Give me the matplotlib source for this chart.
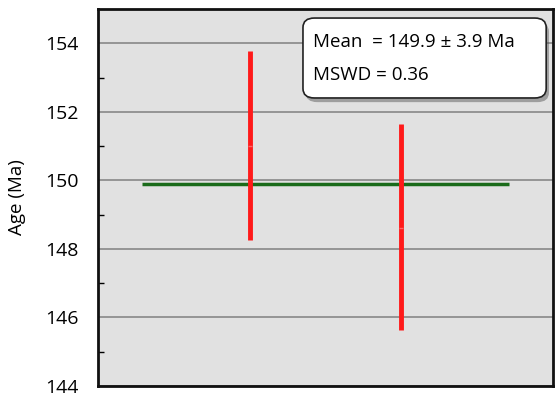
import matplotlib.pyplot as plt
from matplotlib.patches import FancyBboxPatch
import matplotlib.patheffects as pe

plt.rcParams["font.family"] = ["Open Sans", "DejaVu Sans"]

# analysis positions and age intervals (Ma)
positions = [1, 2]
ages = [151.0, 148.62]
age_low = [148.27, 145.62]
age_high = [153.77, 151.63]

mean_age = 149.9
mean_err = 3.9
mswd = 0.36
mean_span = [0.29, 2.71]

y_ticks = [144, 146, 148, 150, 152, 154]


def plot_ages():
    fig = plt.figure(figsize=(5.56, 3.95), dpi=100)
    ax = fig.add_axes([98 / 556, 9 / 395, 455 / 556, 377 / 395])
    ax.set_facecolor("#e1e1e1")

    ax.set_xlim(0, 3)
    ax.set_ylim(144, 155)
    ax.set_yticks(y_ticks)
    ax.set_yticks([145, 147, 149, 151, 153], minor=True)
    ax.tick_params(axis="y", which="major", length=0, pad=14, labelsize=14)
    ax.tick_params(axis="y", which="minor", direction="in", length=4, width=1)
    ax.set_xticks([])
    ax.yaxis.grid(True, color="#888888", linewidth=1.2)
    ax.set_axisbelow(True)
    for spine in ax.spines.values():
        spine.set_linewidth(2)
        spine.set_color("#111111")

    ax.set_ylabel("Age (Ma)", fontsize=13.5)
    ax.yaxis.set_label_coords(-0.158, 0.5)

    ax.hlines(mean_age, mean_span[0], mean_span[1], color="#1a6b1a", linewidth=2.5, zorder=3)
    for x, lo, hi, mid in zip(positions, age_low, age_high, ages):
        ax.vlines(x, lo, hi, color="#ff1a1a", linewidth=3.5, zorder=4)
        ax.plot([x], [mid], marker="_", color="#ff6666", markersize=3, zorder=5)

    box = FancyBboxPatch((0.4505, 0.764), 0.5345, 0.212, boxstyle="round,pad=0,rounding_size=0.025",
                         transform=ax.transAxes, facecolor="white", edgecolor="#222222",
                         linewidth=1.2, zorder=6,
                         path_effects=[pe.SimplePatchShadow(offset=(2, -3), alpha=0.45),
                                       pe.Normal()])
    ax.add_patch(box)
    ax.text(0.4725, 0.912, f"Mean  = {mean_age} \u00b1 {mean_err} Ma", transform=ax.transAxes,
            fontsize=13.5, va="center", zorder=7)
    ax.text(0.4725, 0.825, f"MSWD = {mswd}", transform=ax.transAxes,
            fontsize=13.5, va="center", zorder=7)

    fig.savefig("out.png", dpi=100)


if __name__ == "__main__":
    plot_ages()
